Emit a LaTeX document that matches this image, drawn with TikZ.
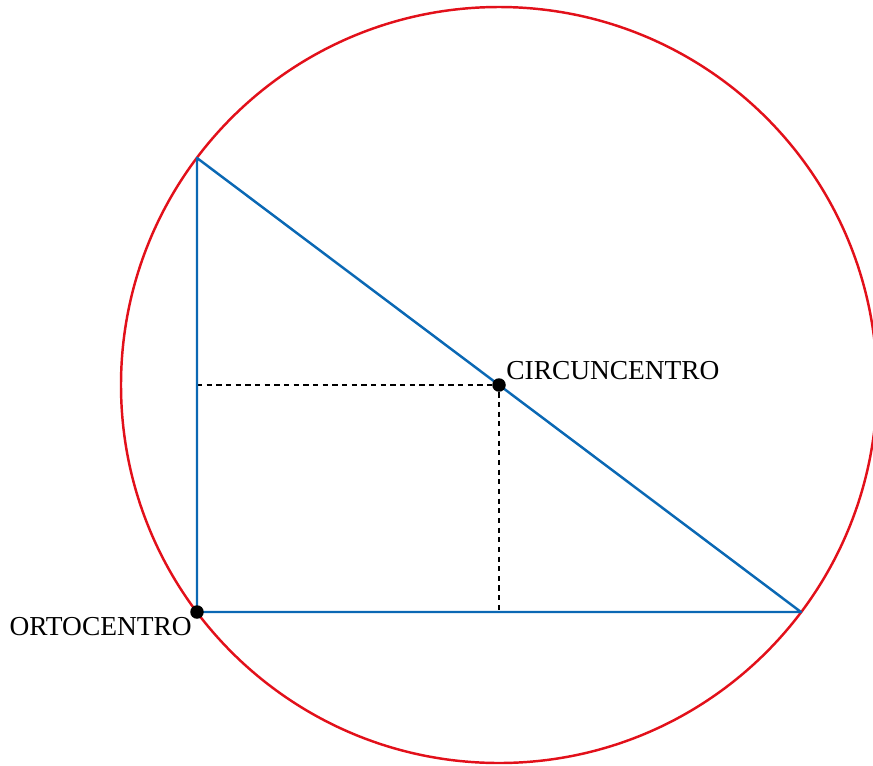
\documentclass[tikz,border=0pt]{standalone}
\usepackage{fontspec}
\setmainfont{Liberation Serif}
\usetikzlibrary{positioning}
\definecolor{tri}{HTML}{0A68B4}
\definecolor{circ}{HTML}{E2101A}

\begin{document}
\begin{tikzpicture}[
  x=0.02cm, y=-0.02cm,
  font=\fontsize{15.6}{18}\selectfont,
  side/.style={draw=tri, line width=1.4pt, line join=round},
  ring/.style={draw=circ, line width=1.4pt},
  guide/.style={draw=black, line width=0.65pt, dash pattern=on 3pt off 2.5pt},
  dot/.style={circle, fill=black, minimum size=2.7mm, inner sep=0pt},
  lab/.style={inner sep=0pt, text=black},
]
\useasboundingbox (0,0) rectangle (873,765);

% vertices of the right triangle
\coordinate (A) at (197,612);
\coordinate (B) at (197,158);
\coordinate (C) at (801,612);
\coordinate (O) at (499,385);
\coordinate (Ay) at (197,385);
\coordinate (Ax) at (499,612);

% circumscribed circle
\draw[ring] (O) circle (378);

\draw[guide] (Ay) -- (O) -- (Ax);
\draw[side] (A) -- (B) -- (C) -- cycle;

\node[dot] (circun) at (O) {};
\node[dot] (orto) at (A) {};

\node[lab, anchor=west] (lcircun) at (506,371) {CIRCUNCENTRO};
\node[lab, anchor=east] (lorto) at (192,627) {ORTOCENTRO};
\end{tikzpicture}
\end{document}
